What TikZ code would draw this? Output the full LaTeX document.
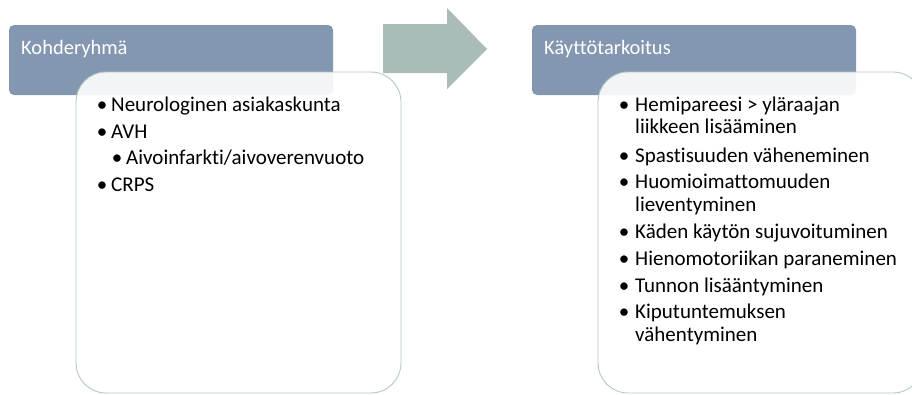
\documentclass[tikz,border=0pt]{standalone}
\usepackage{fontspec}
\setmainfont{Carlito}[Ligatures=NoCommon]
\definecolor{headfill}{HTML}{8497B0}
\definecolor{boxline}{HTML}{B4C8C4}
\definecolor{arrowfill}{HTML}{A9BCB8}
\begin{document}
\begin{tikzpicture}[x=1pt,y=-1pt,
  header/.style={fill=headfill, draw=none, rounded corners=5pt},
  listbox/.style={fill=white, fill opacity=0.9, draw=boxline, line width=0.9pt, rounded corners=30pt},
  headtext/.style={anchor=base west, inner sep=0pt, text=white, font=\fontsize{20.5}{24}\selectfont},
  item/.style={anchor=base west, inner sep=0pt, font=\fontsize{21}{24}\selectfont},
  dot/.style={anchor=base, inner sep=0pt, font=\fontsize{21}{24}\selectfont}
]
\useasboundingbox (0,0) rectangle (912,394);
\clip (0,0) rectangle (912,394);

% left panel
\path[header] (9,25) rectangle (333,95);
\node[headtext] (h1) at (21,54) {Kohderyhmä};
\path[listbox] (76,72) rectangle (401,393);
\node[dot] (b1) at (102,111) {•};
\node[item] (t1) at (111,111) {Neurologinen asiakaskunta};
\node[dot] (b2) at (102,138) {•};
\node[item] (t2) at (111,138) {AVH};
\node[dot] (b3) at (117,164) {•};
\node[item] (t3) at (126,164) {Aivoinfarkti/aivoverenvuoto};
\node[dot] (b4) at (102,191) {•};
\node[item] (t4) at (111,191) {CRPS};

% arrow between panels
\path[fill=arrowfill] (383,24) -- (447,24) -- (447,8) -- (487,49) -- (447,89) -- (447,73) -- (383,73) -- cycle;

% right panel
\path[header] (532,25) rectangle (856,95);
\node[headtext] (h2) at (544,54) {Käyttötarkoitus};
\path[listbox] (598,72) rectangle (923,393);
\node[dot] (c1) at (624,111) {•};
\node[item] (u1) at (635,111) {Hemipareesi > yläraajan};
\node[item] (u1b) at (635,133) {liikkeen lisääminen};
\node[dot] (c2) at (624,162) {•};
\node[item] (u2) at (635,162) {Spastisuuden väheneminen};
\node[dot] (c3) at (624,188) {•};
\node[item] (u3) at (635,188) {Huomioimattomuuden};
\node[item] (u3b) at (635,211) {lieventyminen};
\node[dot] (c4) at (624,238) {•};
\node[item] (u4) at (635,238) {Käden käytön sujuvoituminen};
\node[dot] (c5) at (624,265) {•};
\node[item] (u5) at (635,265) {Hienomotoriikan paraneminen};
\node[dot] (c6) at (624,292) {•};
\node[item] (u6) at (635,292) {Tunnon lisääntyminen};
\node[dot] (c7) at (624,318) {•};
\node[item] (u7) at (635,318) {Kiputuntemuksen};
\node[item] (u7b) at (635,341) {vähentyminen};
\end{tikzpicture}
\end{document}
